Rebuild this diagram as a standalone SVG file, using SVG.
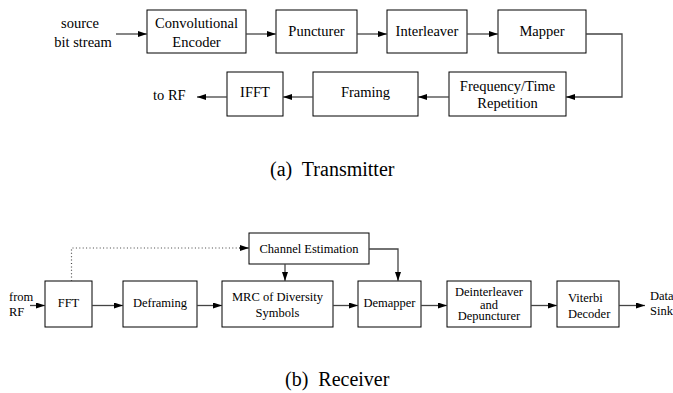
<svg xmlns="http://www.w3.org/2000/svg" width="673" height="393" viewBox="0 0 673 393">
  <style>
    .box { fill: #fff; stroke: #000; stroke-width: 1; }
    .t { font-family: "Liberation Serif", "Times New Roman", serif; fill: #000; }
    .tx { font-size: 14.5px; }
    .rx { font-size: 12.5px; }
    .cap { font-size: 20px; white-space: pre; }
    .c { text-anchor: middle; }
    .wire { fill: none; stroke: #444; stroke-width: 1.3; }
    .dot { fill: none; stroke: #444; stroke-width: 1.2; stroke-dasharray: 1 2.4; }
  </style>
  <defs>
    <marker id="arr" markerUnits="userSpaceOnUse" markerWidth="10" markerHeight="7" refX="9" refY="3" orient="auto">
      <path d="M0,0 L9,3 L0,6 z" fill="#000"/>
    </marker>
  </defs>

  <rect width="673" height="393" fill="#fff"/>

  <!-- Transmitter chain -->
  <g id="tx-source"><text class="t tx c" x="80" y="28">source</text><text class="t tx c" x="83" y="47">bit stream</text></g>
  <g id="tx-encoder"><rect class="box" x="147" y="10" width="99" height="43"/><text class="t tx c" x="196.5" y="28">Convolutional</text><text class="t tx c" x="196.5" y="46.5">Encoder</text></g>
  <g id="tx-puncturer"><rect class="box" x="276" y="10" width="81" height="43"/><text class="t tx c" x="316.5" y="36">Puncturer</text></g>
  <g id="tx-interleaver"><rect class="box" x="387" y="10" width="80" height="43"/><text class="t tx c" x="427" y="36">Interleaver</text></g>
  <g id="tx-mapper"><rect class="box" x="498" y="10" width="88" height="43"/><text class="t tx c" x="542" y="36">Mapper</text></g>
  <g id="tx-repetition"><rect class="box" x="449" y="72" width="117" height="44"/><text class="t tx c" x="507.5" y="90.5">Frequency/Time</text><text class="t tx c" x="507.5" y="108">Repetition</text></g>
  <g id="tx-framing"><rect class="box" x="313" y="72" width="105" height="44"/><text class="t tx c" x="365.5" y="96.5">Framing</text></g>
  <g id="tx-ifft"><rect class="box" x="227" y="72" width="56" height="44"/><text class="t tx c" x="255" y="96.5">IFFT</text></g>
  <g id="tx-out"><text class="t tx" x="153" y="100">to RF</text></g>

  <!-- Receiver chain -->
  <g id="rx-in"><text class="t rx" x="9" y="301">from</text><text class="t rx" x="9" y="316">RF</text></g>
  <g id="rx-fft"><rect class="box" x="45" y="281" width="47" height="46"/><text class="t rx c" x="68.5" y="307">FFT</text></g>
  <g id="rx-deframing"><rect class="box" x="123" y="281" width="74" height="46"/><text class="t rx c" x="160" y="307">Deframing</text></g>
  <g id="rx-chest"><rect class="box" x="249" y="233" width="120" height="31"/><text class="t rx c" x="309" y="253">Channel Estimation</text></g>
  <g id="rx-mrc"><rect class="box" x="222" y="281" width="111" height="46"/><text class="t rx c" x="277.5" y="301">MRC of Diversity</text><text class="t rx c" x="277.5" y="316.5">Symbols</text></g>
  <g id="rx-demapper"><rect class="box" x="358" y="281" width="63" height="46"/><text class="t rx c" x="389.5" y="307">Demapper</text></g>
  <g id="rx-deinterleaver"><rect class="box" x="447" y="281" width="84" height="46"/><text class="t rx c" x="489" y="295.5">Deinterleaver</text><text class="t rx c" x="489" y="308.5">and</text><text class="t rx c" x="489" y="320">Depuncturer</text></g>
  <g id="rx-viterbi"><rect class="box" x="557" y="281" width="62" height="46"/><text class="t rx" x="568" y="301.5">Viterbi</text><text class="t rx" x="568" y="317.5">Decoder</text></g>
  <g id="rx-sink"><text class="t rx" x="650" y="300">Data</text><text class="t rx" x="650" y="315">Sink</text></g>

  <!-- Connectors -->
  <g id="connectors">
    <line class="wire" x1="116" y1="34" x2="147" y2="34" marker-end="url(#arr)"/>
    <line class="wire" x1="246" y1="34" x2="276" y2="34" marker-end="url(#arr)"/>
    <line class="wire" x1="357" y1="34" x2="387" y2="34" marker-end="url(#arr)"/>
    <line class="wire" x1="467" y1="34" x2="498" y2="34" marker-end="url(#arr)"/>
    <polyline class="wire" points="586,34 622,34 622,97 566,97" marker-end="url(#arr)"/>
    <line class="wire" x1="449" y1="97" x2="418" y2="97" marker-end="url(#arr)"/>
    <line class="wire" x1="313" y1="97" x2="283" y2="97" marker-end="url(#arr)"/>
    <line class="wire" x1="227" y1="97" x2="197" y2="97" marker-end="url(#arr)"/>

    <line class="wire" x1="30" y1="305.5" x2="45" y2="305.5" marker-end="url(#arr)"/>
    <line class="wire" x1="92" y1="305.5" x2="123" y2="305.5" marker-end="url(#arr)"/>
    <line class="wire" x1="197" y1="305.5" x2="222" y2="305.5" marker-end="url(#arr)"/>
    <line class="wire" x1="333" y1="305.5" x2="358" y2="305.5" marker-end="url(#arr)"/>
    <line class="wire" x1="421" y1="305.5" x2="447" y2="305.5" marker-end="url(#arr)"/>
    <line class="wire" x1="531" y1="305.5" x2="557" y2="305.5" marker-end="url(#arr)"/>
    <line class="wire" x1="619" y1="305.5" x2="645" y2="305.5" marker-end="url(#arr)"/>
    <polyline class="dot" points="71.5,281 71.5,248 240,248"/>
    <line class="wire" x1="239" y1="248" x2="249" y2="248" marker-end="url(#arr)"/>
    <line class="wire" x1="285" y1="264" x2="285" y2="281" marker-end="url(#arr)"/>
    <polyline class="wire" points="369,249 398,249 398,281" marker-end="url(#arr)"/>
  </g>

  <!-- Captions -->
  <g id="captions">
    <text class="t cap" x="270" y="176">(a)  Transmitter</text>
    <text class="t cap" x="285" y="386">(b)  Receiver</text>
  </g>
</svg>
